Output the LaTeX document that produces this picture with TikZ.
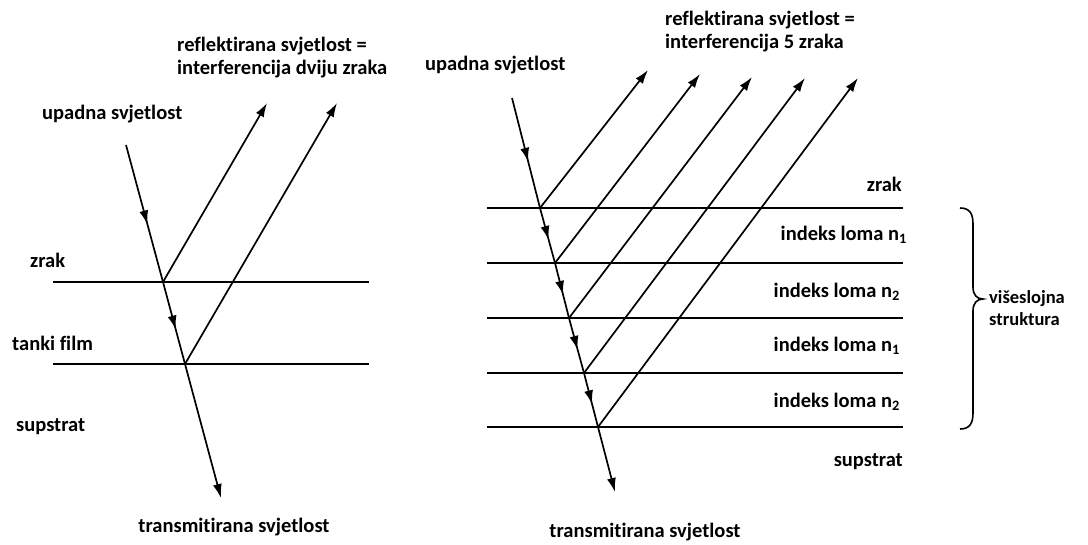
\documentclass[tikz,border=0pt]{standalone}
\usepackage{fontspec}
\setmainfont{Carlito}[Ligatures=NoCommon]
\usetikzlibrary{arrows.meta,decorations.markings}

\tikzset{
  beam/.style={line width=1.7pt},
  ray/.style={beam,-{Latex[length=14pt,width=9pt]}},
  midarrow/.style={beam,postaction={decorate},decoration={markings,
      mark=at position 0.58 with {\arrow{Latex[length=14pt,width=9pt]}}}},
  layer/.style={line width=2.6pt},
  lbl/.style={inner sep=0pt,align=left}
}

\begin{document}
\begin{tikzpicture}[x=1pt,y=-1pt,font=\bfseries\fontsize{20.5}{23}\selectfont]
  \useasboundingbox (0,0) rectangle (1088,545);
  % --- thin film (left) ---
  \draw[layer] (53,282) -- (369,282);
  \draw[layer] (53,364) -- (369,364);
  \coordinate (Lin) at (126,145);
  \coordinate (La) at (163,282);
  \coordinate (Lb) at (185,364);
  \coordinate (Lout) at (221,498);
  \coordinate (Lr1) at (267,103);
  \coordinate (Lr2) at (337,103);
  % incident and transmitted light
  \draw[midarrow] (Lin) -- (La);
  \draw[midarrow] (La) -- (Lb);
  \draw[ray] (Lb) -- (Lout);
  % reflected light
  \draw[ray] (La) -- (Lr1);
  \draw[ray] (Lb) -- (Lr2);
  % labels
  \node[lbl,anchor=west] (inL) at (42,114) {upadna svjetlost};
  \node[lbl,anchor=west] (refL) at (177,58) {reflektirana svjetlost =\\interferencija dviju zraka};
  \node[lbl,anchor=west] (zrakL) at (30,260) {zrak};
  \node[lbl,anchor=west] (film) at (12,343) {tanki film};
  \node[lbl,anchor=west] (subL) at (16,427) {supstrat};
  \node[lbl] (trL) at (234,527) {transmitirana svjetlost};

  % --- multilayer (right) ---
  \coordinate (Rin) at (512,98);
  \foreach \i/\x/\y/\tx/\ty in {1/540/208/648/70, 2/555/263/700/74, 3/569/318/752/77,
      4/584/373/805/78, 5/598/427/858/78} {
    \coordinate (R\i) at (\x,\y);
    \coordinate (T\i) at (\tx,\ty);
    \draw[layer] (487,\y) -- (903,\y);
    \draw[ray] (R\i) -- (T\i);
  }
  \coordinate (Rout) at (615,492);
  \foreach \a/\b in {Rin/R1, R1/R2, R2/R3, R3/R4, R4/R5}
    \draw[midarrow] (\a) -- (\b);
  \draw[ray] (R5) -- (Rout);
  % layer labels
  \node[lbl,anchor=west] (inR) at (425,65) {upadna svjetlost};
  \node[lbl,anchor=west] (refR) at (665,32) {reflektirana svjetlost =\\interferencija 5 zraka};
  \node[lbl,anchor=east] (zrakR) at (902,184) {zrak};
  \node[lbl,anchor=east] (nA) at (907,235) {indeks loma n\textsubscript{1}};
  \node[lbl,anchor=east] (nB) at (900,292) {indeks loma n\textsubscript{2}};
  \node[lbl,anchor=east] (nC) at (900,346) {indeks loma n\textsubscript{1}};
  \node[lbl,anchor=east] (nD) at (900,402) {indeks loma n\textsubscript{2}};
  \node[lbl,anchor=east] (subR) at (903,462) {supstrat};
  \node[lbl] (trR) at (645,532) {transmitirana svjetlost};
  % brace
  \draw[line width=1.6pt] (960,208) .. controls (970,208) and (973,214) .. (973,224)
    -- (973,287) .. controls (973,295) and (977,299) .. (983,299)
    .. controls (977,299) and (973,303) .. (973,311)
    -- (973,413) .. controls (973,423) and (970,429) .. (960,429);
  \node[lbl,anchor=west,font=\bfseries\fontsize{18.5}{22}\selectfont] (stack) at (989,308) {višeslojna\\struktura};
\end{tikzpicture}
\end{document}
